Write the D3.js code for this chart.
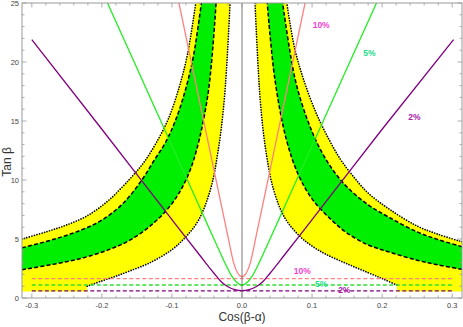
<!DOCTYPE html>
<html><head><meta charset="utf-8">
<script src="https://cdn.jsdelivr.net/npm/d3@7/dist/d3.min.js"></script>
<style>body{margin:0;background:#fff}svg{display:block}</style>
</head><body>
<svg id="c" width="463" height="327"></svg>
<script>
// ---- data ----
const xTicks = [-0.3,-0.2,-0.1,0.0,0.1,0.2,0.3];
const xTickLabels = ["-0.3","-0.2","-0.1","0.0","0.1","0.2","0.3"];
const yTicks = [0,5,10,15,20,25];
const yTickLabels = ["0","5","10","15","20","25"];

// left band boundaries [cos(b-a), tan b]
const leftOuterDotted = [[-0.314,5.0],[-0.28,5.6],[-0.25,6.2],[-0.22,7.0],[-0.19,8.3],[-0.16,10.1],[-0.14,11.5],[-0.122,13.2],[-0.105,15.2],[-0.09,17.8],[-0.078,20.6],[-0.066,25]];
const leftUpperDashed = [[-0.314,4.25],[-0.27,4.95],[-0.23,5.75],[-0.2,6.6],[-0.17,8.0],[-0.143,10.0],[-0.125,11.7],[-0.109,13.2],[-0.094,15.2],[-0.08,17.8],[-0.069,20.6],[-0.058,25]];
const leftLowerDashed = [[-0.314,2.4],[-0.27,2.85],[-0.23,3.35],[-0.19,4.1],[-0.16,4.9],[-0.127,6.3],[-0.1,8.0],[-0.08,10.0],[-0.065,12.5],[-0.048,17.5],[-0.037,25]];
const leftInnerDotted = [[-0.221,1.0],[-0.2,1.45],[-0.18,1.85],[-0.16,2.3],[-0.131,3.0],[-0.1,4.1],[-0.08,5.2],[-0.062,6.6],[-0.045,9.2],[-0.034,12.5],[-0.025,17.0],[-0.017,25]];
// right band boundaries
const rightOuterDotted = [[0.314,4.77],[0.28,5.4],[0.25,6.1],[0.211,7.5],[0.18,8.9],[0.159,10.3],[0.14,11.8],[0.121,13.8],[0.105,15.8],[0.088,18.5],[0.075,21.2],[0.064,25]];
const rightUpperDashed = [[0.314,4.35],[0.28,4.95],[0.25,5.6],[0.211,6.8],[0.18,7.9],[0.15,9.4],[0.128,11.0],[0.11,12.8],[0.094,15.0],[0.076,18.5],[0.058,25]];
const rightLowerDashed = [[0.314,2.43],[0.28,2.8],[0.25,3.2],[0.21,3.9],[0.18,4.5],[0.15,5.5],[0.128,6.6],[0.1,8.4],[0.08,10.5],[0.063,13.5],[0.047,18.5],[0.036,25]];
const rightInnerDotted = [[0.221,1.1],[0.202,1.6],[0.18,2.15],[0.15,2.9],[0.12,3.7],[0.1,4.4],[0.083,5.2],[0.061,6.8],[0.045,9.2],[0.034,12.5],[0.026,16.8],[0.0186,25]];
const bandFloor = 0.55;

// V-shaped contours
const line2 = [[-0.3,21.9],[-0.2,14.3],[-0.1,6.64],[-0.06,3.6],[-0.04,2.1],[-0.03,1.4],[-0.02,0.95],[-0.01,0.7],[0,0.62],[0.01,0.7],[0.02,0.95],[0.03,1.4],[0.04,2.1],[0.06,3.6],[0.1,6.64],[0.2,14.3],[0.302,21.9]];
const line5 = [[-0.192,25],[-0.15,19.5],[-0.1,12.9],[-0.065,8.3],[-0.04,5.0],[-0.025,3.05],[-0.015,1.9],[-0.008,1.35],[0,1.1],[0.008,1.35],[0.015,1.9],[0.025,3.05],[0.04,5.0],[0.065,8.3],[0.1,12.9],[0.15,19.5],[0.192,25]];
const line10 = [[-0.09,25],[-0.06,16.5],[-0.031,8.3],[-0.02,5.2],[-0.012,3.0],[-0.006,2.1],[0,1.8],[0.006,2.1],[0.012,3.0],[0.02,5.2],[0.031,8.3],[0.06,16.5],[0.09,25]];
// horizontal dashed limits
const hLevels = [1.65, 1.1, 0.6];
const hNames = ["10%","5%","2%"];
const hRange = [-0.3, 0.3];

// ---- drawing ----
const W=463,H=327, L=22,R=462,T=3,B=298;
const svg=d3.select("#c");
const x=d3.scaleLinear().domain([-0.314,0.314]).range([L,R]);
const y=d3.scaleLinear().domain([0,25]).range([B,T]);
const gen=d3.line().x(d=>x(d[0])).y(d=>y(d[1])).curve(d3.curveCatmullRom.alpha(0.5));
const seg=(p)=>gen(p);
const join=(...parts)=>parts.map((p,i)=> i===0? p : "L"+p.slice(1)).join("")+"Z";

svg.append("defs").append("clipPath").attr("id","pa").append("rect")
  .attr("x",L).attr("y",T).attr("width",R-L).attr("height",B-T);
const g=svg.append("g").attr("clip-path","url(#pa)");

const YEL="#ffff00", GRN="#00ee00";
const rev=a=>a.slice().reverse();
g.append("path").attr("fill",YEL).attr("d",
  join(seg(leftOuterDotted), seg(rev(leftInnerDotted)),
       seg([[-0.221,bandFloor],[-0.314,bandFloor]])));
g.append("path").attr("fill",YEL).attr("d",
  join(seg(rightOuterDotted), seg(rev(rightInnerDotted)),
       seg([[0.221,bandFloor],[0.314,bandFloor]])));
g.append("path").attr("fill",GRN).attr("d", join(seg(leftUpperDashed), seg(rev(leftLowerDashed))));
g.append("path").attr("fill",GRN).attr("d", join(seg(rightUpperDashed), seg(rev(rightLowerDashed))));

[leftOuterDotted,leftInnerDotted,rightOuterDotted,rightInnerDotted].forEach(p=>{
  g.append("path").attr("d",seg(p)).attr("fill","none").attr("stroke","#000")
   .attr("stroke-width",1.7).attr("stroke-dasharray","0,2.6").attr("stroke-linecap","round");
});
[leftUpperDashed,leftLowerDashed,rightUpperDashed,rightLowerDashed].forEach(p=>{
  g.append("path").attr("d",seg(p)).attr("fill","none").attr("stroke","#000")
   .attr("stroke-width",1.5).attr("stroke-dasharray","4,2.2");
});

const hCols=["#ff8080","#33dd33","#800080"];
hLevels.forEach((v,i)=>{
  g.append("line").attr("x1",x(hRange[0])).attr("x2",x(hRange[1]))
   .attr("y1",y(v)).attr("y2",y(v)).attr("stroke",hCols[i]).attr("stroke-width",1.3)
   .attr("stroke-dasharray","4,2.5");
});

const vl=d3.line().x(d=>x(d[0])).y(d=>y(d[1])).curve(d3.curveMonotoneX);
[[line10,"#ff8080"],[line5,"#22ee22"],[line2,"#800080"]].forEach(([p,c])=>{
  g.append("path").attr("d",vl(p)).attr("fill","none").attr("stroke",c).attr("stroke-width",1.3);
});

g.append("line").attr("x1",x(0)).attr("x2",x(0)).attr("y1",T).attr("y2",B)
  .attr("stroke","#555").attr("stroke-width",0.8);

const lab=(t,px,py,c)=>svg.append("text").attr("x",px).attr("y",py).attr("fill",c)
  .attr("font-family","Liberation Sans, Arial, sans-serif").attr("font-size",8.5)
  .attr("font-weight","bold").attr("text-anchor","middle").text(t);
lab(hNames[0], x(0.113), y(22.9), "#ee44cc");
lab(hNames[1], x(0.182), y(20.5), "#22dd88");
lab(hNames[2], x(0.246), y(15.1), "#aa22aa");
lab(hNames[0], x(0.086), y(2.0), "#ee44cc");
lab(hNames[1], x(0.113), y(0.93), "#22dd88");
lab(hNames[2], x(0.146), y(0.42), "#aa22aa");

const fr=svg.append("g");
fr.append("rect").attr("x",L).attr("y",T).attr("width",R-L).attr("height",B-T)
  .attr("fill","none").attr("stroke","#9a9a9a").attr("stroke-width",1);
const tk=(x1,y1,x2,y2)=>fr.append("line").attr("x1",x1).attr("y1",y1).attr("x2",x2).attr("y2",y2)
  .attr("stroke","#9a9a9a").attr("stroke-width",0.8);
d3.range(-0.3,0.3001,0.02).forEach(v=>{
  const major=Math.abs(Math.round(v*10)-v*10)<1e-6;
  const len=major?4.5:2.5;
  tk(x(v),B,x(v),B-len); tk(x(v),T,x(v),T+len);
});
d3.range(0,25.001,1).forEach(v=>{
  const major=v%5===0;
  const len=major?4.5:2.5;
  tk(L,y(v),L+len,y(v)); tk(R,y(v),R-len,y(v));
});
xTicks.forEach((v,i)=>{
  svg.append("text").attr("x",x(v)).attr("y",B+10).attr("text-anchor","middle")
   .attr("font-family","Liberation Sans, Arial, sans-serif").attr("font-size",7.5).attr("fill","#444")
   .text(xTickLabels[i]);
});
yTicks.forEach((v,i)=>{
  svg.append("text").attr("x",L-3).attr("y",y(v)+2.7).attr("text-anchor","end")
   .attr("font-family","Liberation Sans, Arial, sans-serif").attr("font-size",7.5).attr("fill","#444")
   .text(yTickLabels[i]);
});
svg.append("text").attr("x",x(0)).attr("y",321).attr("text-anchor","middle")
  .attr("font-family","Liberation Sans, Arial, sans-serif").attr("font-size",12).attr("fill","#333")
  .text("Cos(β-α)");
svg.append("text").attr("transform","translate(11,162) rotate(-90)").attr("text-anchor","middle")
  .attr("font-family","Liberation Sans, Arial, sans-serif").attr("font-size",12).attr("fill","#333")
  .text("Tan β");
</script>
</body></html>
